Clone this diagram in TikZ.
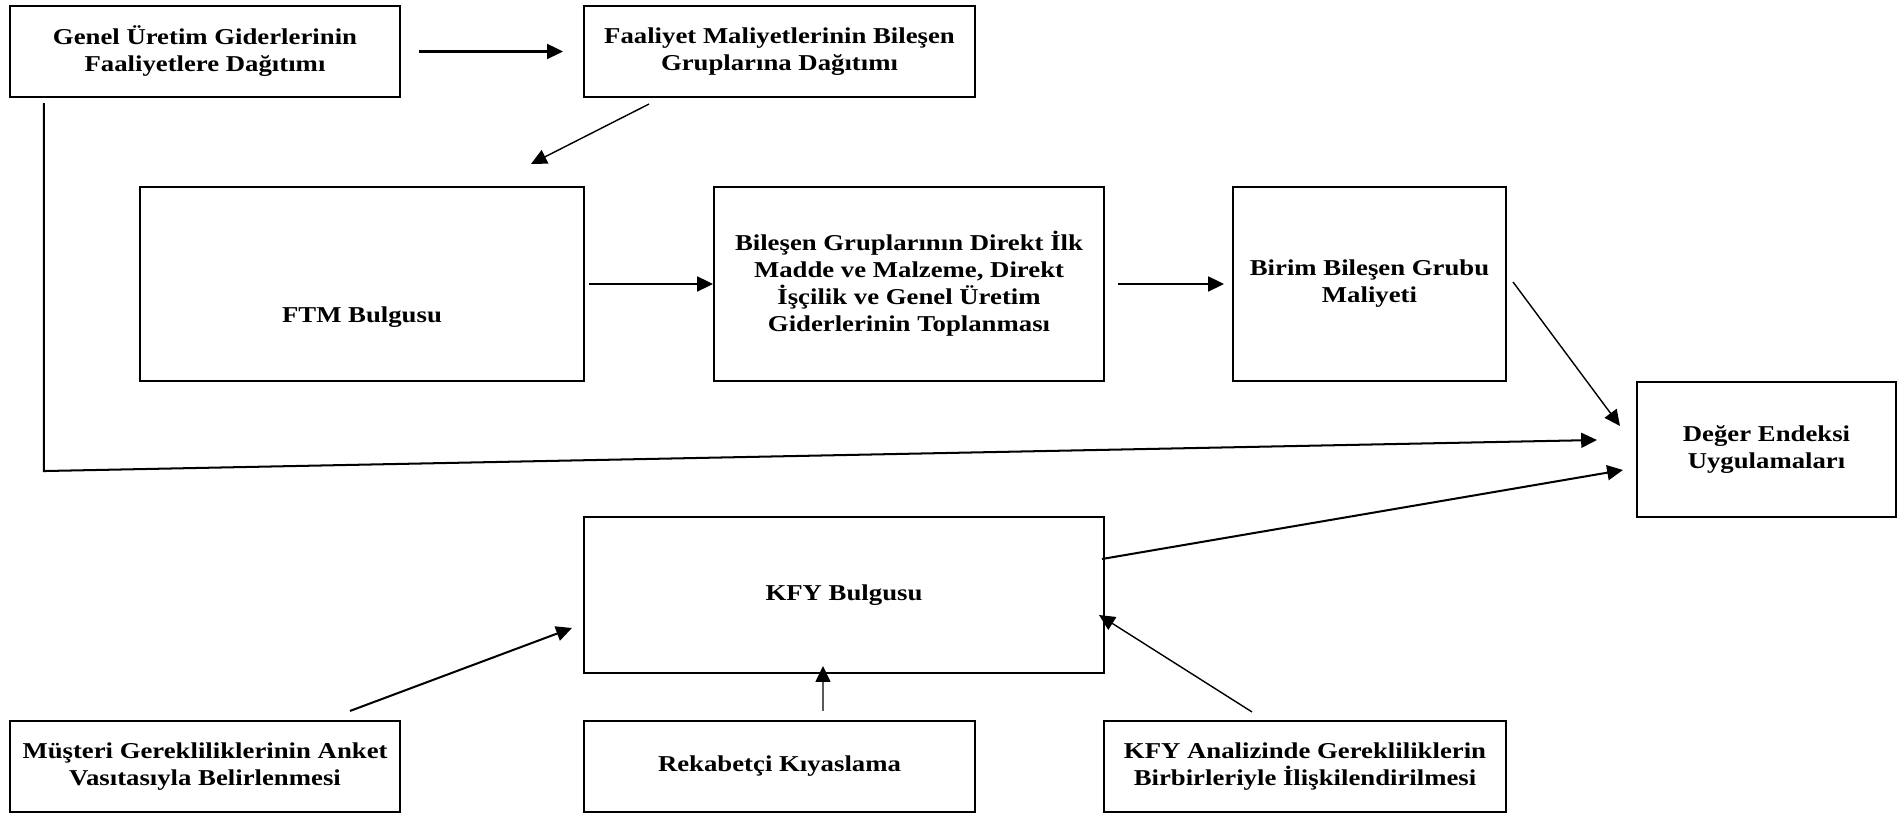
\documentclass[tikz,border=0pt]{standalone}
\usepackage{fontspec}
\setmainfont{Liberation Serif}[FakeStretch=1.18]
\usetikzlibrary{positioning,arrows.meta,calc}
\tikzset{
  block/.style={draw=black, line width=1.2pt, inner sep=2pt, align=center,
    font=\fontsize{12.9}{15.4}\selectfont\bfseries},
  blocktext/.style={font=\fontsize{12.9}{15.4}\selectfont\bfseries},
  flow/.style={line width=1.15pt, draw=black, -{Triangle[length=9pt,width=8.5pt]}},
  thinflow/.style={line width=0.8pt, draw=black, -{Triangle[length=9pt,width=8.5pt]}}
}

\begin{document}
\begin{tikzpicture}[x=0.02cm,y=-0.02cm]
  \useasboundingbox (0,0) rectangle (1901,813);

  % upper row
  \node[block, minimum width=7.8cm, minimum height=1.82cm] (genel) at (205,51.5)
    {Genel Üretim Giderlerinin\\Faaliyetlere Dağıtımı};
  \node[block, minimum width=7.82cm, minimum height=1.82cm] (faal) at (779.5,51.5)
    {Faaliyet Maliyetlerinin Bileşen\\Gruplarına Dağıtımı};

  % middle row
  \node[block, minimum width=8.88cm, minimum height=3.88cm,
    label={[blocktext, yshift=-0.66cm]center:FTM Bulgusu}] (ftm) at (362,284) {};
  \node[block, minimum width=7.8cm, minimum height=3.88cm] (bil) at (909,284)
    {Bileşen Gruplarının Direkt İlk\\Madde ve Malzeme, Direkt\\İşçilik ve Genel Üretim\\Giderlerinin Toplanması};
  \node[block, minimum width=5.46cm, minimum height=3.88cm] (birim) at (1369.5,284)
    {Birim Bileşen Grubu\\Maliyeti};
  \node[block, minimum width=5.18cm, minimum height=2.7cm] (deger) at (1766.5,449.5)
    {Değer Endeksi\\Uygulamaları};

  % KFY part
  \node[block, minimum width=10.4cm, minimum height=3.12cm] (kfy) at (844,595)
    {KFY Bulgusu};
  \node[block, minimum width=7.8cm, minimum height=1.82cm] (must) at (205,766.5)
    {Müşteri Gerekliliklerinin Anket\\Vasıtasıyla Belirlenmesi};
  \node[block, minimum width=7.82cm, minimum height=1.82cm] (rek) at (779.5,766.5)
    {Rekabetçi Kıyaslama};
  \node[block, minimum width=8.04cm, minimum height=1.82cm] (kfyan) at (1305,766.5)
    {KFY Analizinde Gerekliliklerin\\Birbirleriyle İlişkilendirilmesi};

  % free ends of the connectors
  \coordinate (faalout) at ($(faal.south west)+(66,6)$);
  \coordinate (ftmin) at ($(ftm.north west)+(392,-22)$);
  \coordinate (birimout) at ($(birim.east)+(6,-2)$);
  \coordinate (degerin1) at ($(deger.north west)+(-16,45)$);
  \coordinate (genelout) at ($(genel.south west)+(35,5)$);
  \coordinate (corner) at ($(genelout)+(0,368)$);
  \coordinate (degerin2) at ($(deger.west)+(-39,-9.5)$);
  \coordinate (kfyout) at ($(kfy.east)+(-3,-36)$);
  \coordinate (degerin3) at ($(deger.west)+(-13,20.5)$);
  \coordinate (mustout) at ($(must.north west)+(341,-9)$);
  \coordinate (kfyin1) at ($(kfy.west)+(-11,33)$);
  \coordinate (rekout) at ($(rek.north)+(43.5,-9)$);
  \coordinate (kfyin2) at ($(kfy.south)+(-21,-8)$);
  \coordinate (kfyanout) at ($(kfyan.north west)+(149,-8)$);
  \coordinate (kfyin3) at ($(kfy.east)+(-6,20)$);

  \draw[flow, shorten <=0.36cm, shorten >=0.4cm] (genel.east) -- (faal.west);
  \draw[thinflow] (faalout) -- (ftmin);
  \draw[flow, shorten <=0.08cm] (ftm.east) -- (bil.west);
  \draw[flow, shorten <=0.26cm, shorten >=0.16cm] (bil.east) -- (birim.west);
  \draw[thinflow] (birimout) -- (degerin1);
  \draw[flow] (genelout) -- (corner) -- (degerin2);
  \draw[flow] (kfyout) -- (degerin3);
  \draw[flow] (mustout) -- (kfyin1);
  \draw[thinflow] (rekout) -- (kfyin2);
  \draw[thinflow] (kfyanout) -- (kfyin3);
\end{tikzpicture}
\end{document}
